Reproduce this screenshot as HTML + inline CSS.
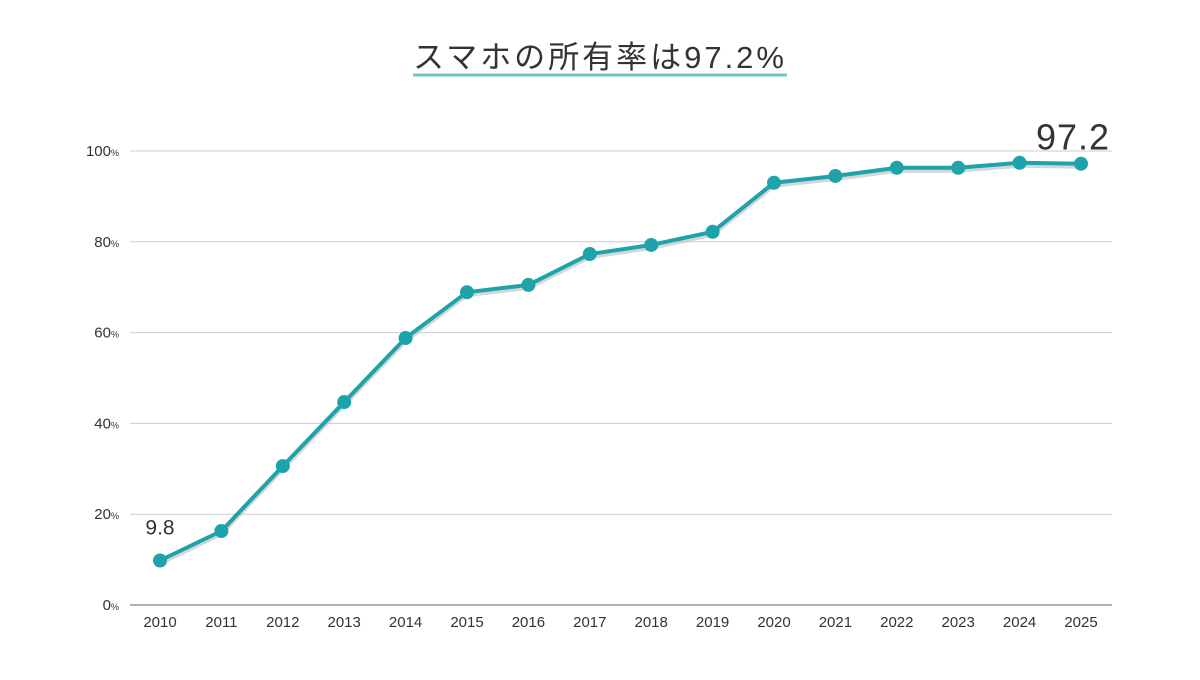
<!DOCTYPE html>
<html><head><meta charset="utf-8"><style>
html,body{margin:0;padding:0;background:#fff;}
svg text{font-family:"Liberation Sans","Noto Sans CJK JP",sans-serif;}
</style></head><body>
<svg width="1200" height="675" viewBox="0 0 1200 675">
<text x="600" y="68" text-anchor="middle" font-size="31" fill="#333" letter-spacing="3">スマホの所有率は97.2%</text>
<line x1="413" y1="75" x2="787" y2="75" stroke="#6cc6c8" stroke-width="3"/>
<g id="grid"></g><g id="xt"></g><g id="series"></g>
</svg>
<script>
const years=["2010","2011","2012","2013","2014","2015","2016","2017","2018","2019","2020","2021","2022","2023","2024","2025"];
const values=[9.8,16.3,30.6,44.7,58.8,68.9,70.5,77.3,79.3,82.2,93.0,94.5,96.3,96.3,97.4,97.2];
const yTicks=[0,20,40,60,80,100];
const NS="http://www.w3.org/2000/svg";
const X=i=>160+i*(1081-160)/(years.length-1);
const Y=v=>605-v*(605-151)/100;
function mk(tag,attrs,parent,txt){const e=document.createElementNS(NS,tag);for(const k in attrs)e.setAttribute(k,attrs[k]);if(txt!==undefined)e.textContent=txt;parent.appendChild(e);return e;}
const grid=document.getElementById('grid');
yTicks.forEach(t=>{
 const l=mk('line',{x1:130,x2:1112,y1:Y(t),y2:Y(t),stroke:t===0?'#999':'#ccc','stroke-width':t===0?1.5:1},grid);
 
 
 const tx=mk('text',{x:119,y:Y(t)+5,'text-anchor':'end','font-size':15,fill:'#333'},grid);
 
 
 tx.textContent=t;
 mk('tspan',{'font-size':9},tx,'%');
});
const xt=document.getElementById('xt');
years.forEach((y,i)=>{
 const t=mk('text',{x:X(i),y:627,'text-anchor':'middle','font-size':15,fill:'#333'},xt,y);
 
 
});
const s=document.getElementById('series');
const pts=values.map((v,i)=>X(i)+','+Y(v)).join(' ');
const sh=mk('polyline',{points:values.map((v,i)=>X(i)+','+(Y(v)+3)).join(' '),fill:'none',stroke:'#bbb','stroke-width':4,opacity:0.6},s);


const pl=mk('polyline',{points:pts,fill:'none',stroke:'#1fa3ab','stroke-width':4,'stroke-linejoin':'round'},s);


values.forEach((v,i)=>{
 const c=mk('circle',{cx:X(i),cy:Y(v),r:7,fill:'#1fa3ab'},s);
 
 
});
const l1=mk('text',{x:X(0),y:Y(values[0])-26,'text-anchor':'middle','font-size':21,fill:'#333'},s,String(values[0]));


const n=values.length-1;
const l2=mk('text',{x:X(n)-8,y:Y(values[n])-14,'text-anchor':'middle','font-size':36,fill:'#333','letter-spacing':1},s,String(values[n]));


</script>
</body></html>
